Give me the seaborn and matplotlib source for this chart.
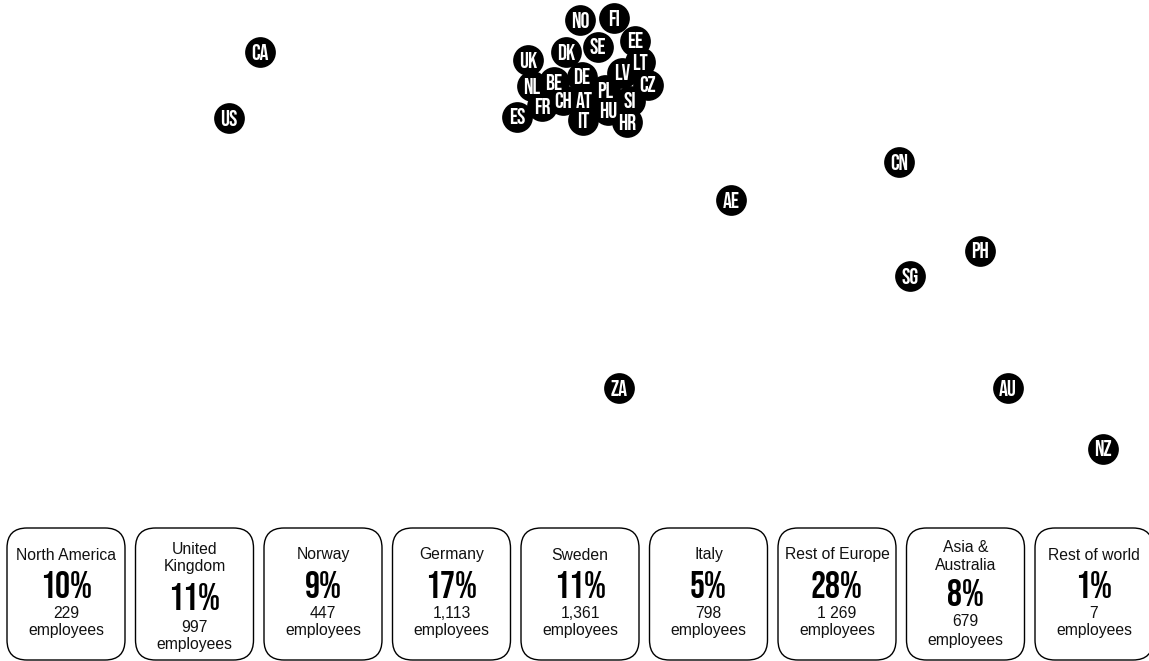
import matplotlib
matplotlib.use("Agg")
import matplotlib.pyplot as plt
from matplotlib.patches import FancyBboxPatch
import pandas as pd
import seaborn as sns

# Office locations, in map pixels
codes = ["CA", "US", "NO", "FI", "EE", "LT", "SE", "DK", "UK", "NL", "BE", "DE",
         "LV", "CZ", "PL", "SI", "HU", "HR", "AT", "IT", "CH", "FR", "ES",
         "CN", "AE", "PH", "SG", "ZA", "AU", "NZ"]
map_x = [260, 229, 580, 614, 635, 640, 598, 566, 528, 532, 554, 582,
         622, 648, 605, 630, 608, 627, 584, 583, 563, 542, 517,
         899, 731, 980, 910, 619, 1008, 1103]
map_y = [52, 118, 20, 18, 41, 62, 47, 52, 60, 86, 82, 77,
         73, 85, 90, 101, 110, 122, 101, 120, 100, 106, 117,
         162, 200, 251, 276, 388, 388, 449]

# Regional headcount cards
regions = ["North America", "United\nKingdom", "Norway", "Germany", "Sweden",
           "Italy", "Rest of Europe", "Asia &\nAustralia", "Rest of world"]
shares = ["10%", "11%", "9%", "17%", "11%", "5%", "28%", "8%", "1%"]
headcounts = ["229", "997", "447", "1,113", "1,361", "798", "1 269", "679", "7"]

sns.set_theme(style="white")
BODY = ["Liberation Sans", "DejaVu Sans"]
DISPLAY = ["Bebas Neue", "Oswald", "Liberation Sans", "DejaVu Sans"]
BODY_SIZE = 11.3

# Vertical text rows per card layout: title lines, share, count, "employees"
ROWS_ONE_LINE = ((555,), 585, 614, 631)
ROWS_UK = ((549, 567), 597, 627, 644)
ROWS_ASIA = ((548, 565), 593, 622, 640)

fig, ax = plt.subplots(figsize=(11.49, 6.61), dpi=100)
fig.subplots_adjust(0, 0, 1, 1)

offices = pd.DataFrame({"x": map_x, "y": map_y, "code": codes})
sns.scatterplot(data=offices, x="x", y="y", ax=ax, color="black", s=490,
                linewidth=0, legend=False, clip_on=False)
for c, x, y in zip(codes, map_x, map_y):
    ax.text(x, y - 0.5, c, color="white", ha="center", va="center_baseline",
            fontsize=16, family=DISPLAY)

card_w, card_h = 118, 132
for i, (name, share, count) in enumerate(zip(regions, shares, headcounts)):
    left = 7 + i * 128.5
    cx = left + card_w / 2
    ax.add_patch(FancyBboxPatch((left + 20, 528 + 20), card_w - 40, card_h - 40,
                                boxstyle="round,pad=20,rounding_size=20",
                                fc="white", ec="black", lw=1.0, clip_on=True))
    if name.startswith("United"):
        rows = ROWS_UK
    elif name.startswith("Asia"):
        rows = ROWS_ASIA
    else:
        rows = ROWS_ONE_LINE
    title_ys, share_y, count_y, emp_y = rows
    for line, y in zip(name.split("\n"), title_ys):
        ax.text(cx, y, line, ha="center", va="center", fontsize=BODY_SIZE, family=BODY, color="#111111")
    ax.text(cx, share_y, share, ha="center", va="center_baseline",
            fontsize=27, fontweight="bold", family=DISPLAY, color="black")
    ax.text(cx, count_y, count, ha="center", va="center", fontsize=BODY_SIZE, family=BODY, color="#111111")
    ax.text(cx, emp_y, "employees", ha="center", va="center", fontsize=BODY_SIZE, family=BODY, color="#111111")

ax.set_xlim(0, 1149)
ax.set_ylim(661, 0)
ax.axis("off")
fig.savefig("out.png", dpi=100, facecolor="white")
